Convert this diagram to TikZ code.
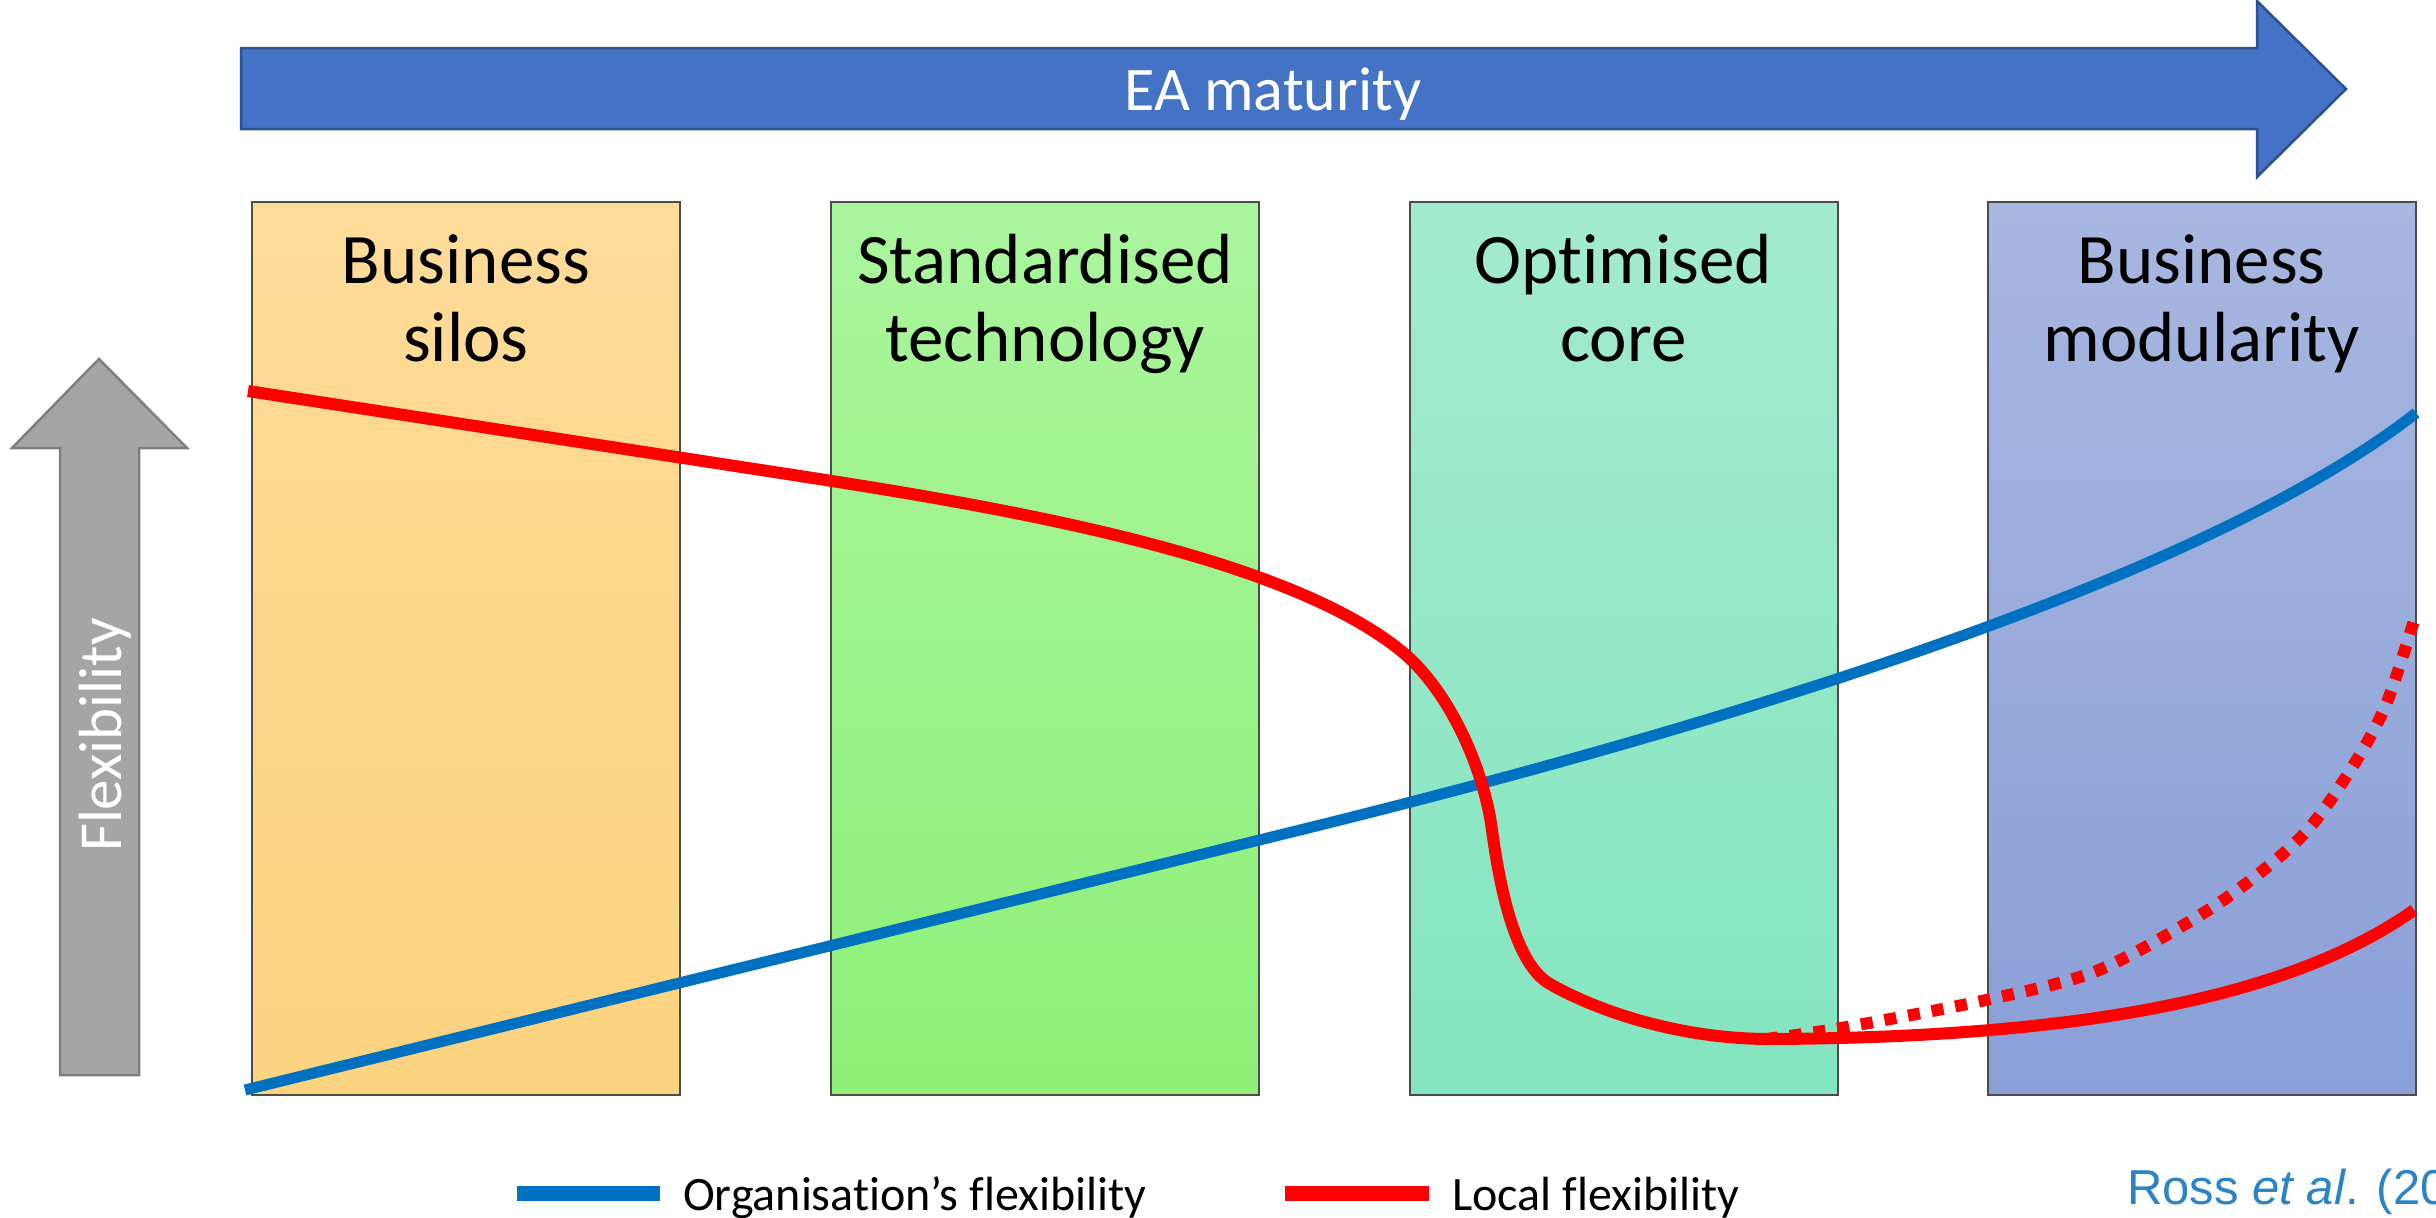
\documentclass[tikz,border=0pt]{standalone}
\usepackage{fontspec}
\setmainfont{Carlito}[Ligatures=NoCommon, Contextuals=NoAlternate]
\newfontfamily\arialf{Liberation Sans}
\definecolor{eablue}{HTML}{4472C4}
\definecolor{eaborder}{HTML}{2F528F}
\definecolor{flexgray}{HTML}{A5A5A5}
\definecolor{flexborder}{HTML}{7F7F7F}
\definecolor{orgblue}{HTML}{0070C0}
\definecolor{locred}{HTML}{FF0000}
\definecolor{citeblue}{HTML}{2A84C6}
\tikzset{
  colbox/.style={draw=black!70, line width=2pt, minimum width=428pt, minimum height=893pt, inner sep=0pt},
  coltitle/.style={font=\fontsize{71}{78}\selectfont, align=center, anchor=base, inner sep=0pt},
  orgline/.style={draw=orgblue, line width=11pt},
  locline/.style={draw=locred, line width=12pt},
  legtext/.style={font=\fontsize{48}{56}\selectfont, anchor=base west, inner sep=0pt},
}
\begin{document}
\begin{tikzpicture}[x=1pt,y=-1pt]
\useasboundingbox (0,0) rectangle (2436,1218);
\clip (0,0) rectangle (2436,1218);

% EA maturity arrow
\draw[fill=eablue, draw=eaborder, line width=2.5pt, line join=miter]
  (241,48) -- (2257,48) -- (2257,1) -- (2346,89) -- (2257,177) -- (2257,129) -- (241,129) -- cycle;
\node[font=\fontsize{62}{70}\selectfont, text=white, anchor=base, inner sep=0pt] (ea) at (1273,110) {EA maturity};

% Flexibility arrow
\draw[fill=flexgray, draw=flexborder, line width=2.5pt]
  (99,359) -- (187,448) -- (139,448) -- (139,1075) -- (60,1075) -- (60,448) -- (12,448) -- cycle;
\node[font=\fontsize{61}{70}\selectfont, text=white, rotate=90, anchor=base, inner sep=0pt] (flex) at (121,735) {Flexibility};

% columns
\node[colbox, top color={rgb,255:red,253;green,219;blue,153}, bottom color={rgb,255:red,252;green,211;blue,127}] (c1) at (466,648.5) {};
\node[colbox, top color={rgb,255:red,171;green,245;blue,158}, bottom color={rgb,255:red,142;green,240;blue,120}] (c2) at (1045,648.5) {};
\node[colbox, top color={rgb,255:red,163;green,234;blue,206}, bottom color={rgb,255:red,132;green,229;blue,192}] (c3) at (1623.5,648.5) {};
\node[colbox, top color={rgb,255:red,168;green,183;blue,224}, bottom color={rgb,255:red,138;green,159;blue,216}] (c4) at (2201.5,648.5) {};

\node[coltitle] (t1) at (466,361) {Business\\silos};
\node[coltitle] (t2) at (1045,361) {Standardised\\technology};
\node[coltitle] (t3) at (1623.5,361) {Optimised\\core};
\node[coltitle] (t4) at (2201.5,361) {Business\\modularity};

% organisation's flexibility (blue)
\coordinate (bstart) at (245,1090);
\coordinate (bmid) at (1300,830);
\coordinate (bend) at (2416,413);
\draw[orgline] (bstart) -- (bmid) .. controls (1620,751) and (2180,598) .. (bend);

% local flexibility (red)
\coordinate (rstart) at (248,391);
\coordinate (r1) at (800,476);
\coordinate (r2) at (1400,650);
\coordinate (r3) at (1492,830);
\coordinate (r4) at (1550,984);
\coordinate (rlow) at (1766,1039);
\coordinate (rend) at (2414,910);
\draw[locline, line join=round] (rstart) -- (r1)
  .. controls (1000,507) and (1280,554) .. (r2)
  .. controls (1450,690) and (1484,770) .. (r3)
  .. controls (1501,898) and (1518,966) .. (r4)
  .. controls (1590,1007) and (1670,1038) .. (rlow)
  .. controls (2050,1038) and (2280,1005) .. (rend);
\draw[locline, dash pattern=on 12pt off 12pt] plot[smooth, tension=0.5] coordinates {
  (1766,1039) (1841,1028) (1986,1000) (2099,970) (2216,905) (2299,839) (2346,777) (2385,707) (2416,614)};

% legend
\fill[orgblue] (517,1186) rectangle (660,1201);
\node[legtext] (l1) at (683,1210) {Organisation’s flexibility};
\fill[locred] (1285,1186) rectangle (1429,1201);
\node[legtext] (l2) at (1452,1210) {Local flexibility};

% citation
\node[font=\arialf\fontsize{49}{56}\selectfont, text=citeblue, anchor=base west, inner sep=0pt] (cite) at (2127,1204) {Ross \textit{et al}. (2006)};
\end{tikzpicture}
\end{document}
